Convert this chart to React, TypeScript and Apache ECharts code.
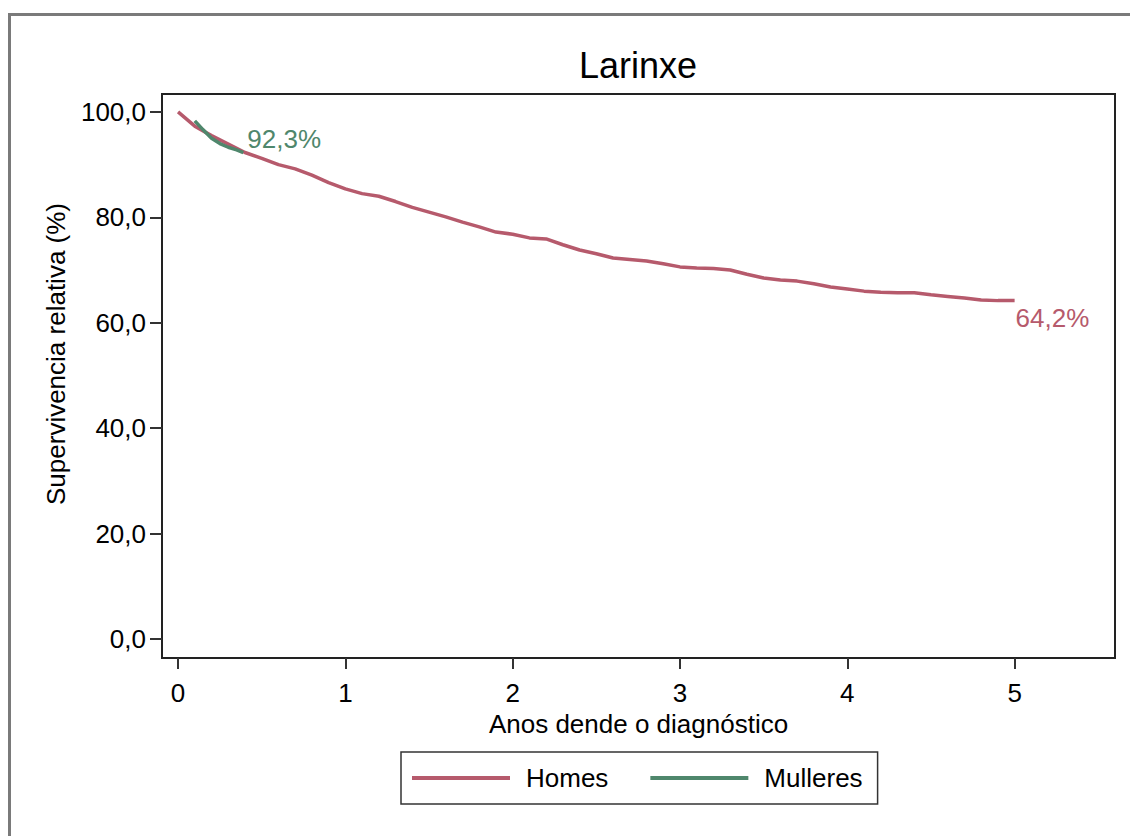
import React, { useEffect, useRef } from "react";
import * as echarts from "echarts";

const titleText = "Larinxe";
const yAxisTitle = "Supervivencia relativa (%)";
const xAxisTitle = "Anos dende o diagnóstico";
const seriesNames = ["Homes", "Mulleres"];

const yTicks = [0, 20, 40, 60, 80, 100];
const xTicks = [0, 1, 2, 3, 4, 5];

const homesYears = [
  0, 0.1, 0.2, 0.3, 0.4, 0.5, 0.6, 0.7, 0.8, 0.9, 1.0, 1.1, 1.2, 1.3, 1.4, 1.5, 1.6,
  1.7, 1.8, 1.9, 2.0, 2.1, 2.2, 2.3, 2.4, 2.5, 2.6, 2.7, 2.8, 2.9, 3.0, 3.1, 3.2, 3.3,
  3.4, 3.5, 3.6, 3.7, 3.8, 3.9, 4.0, 4.1, 4.2, 4.3, 4.4, 4.5, 4.6, 4.7, 4.8, 4.9, 5.0,
];
const homesSurv = [
  100, 97.3, 95.5, 93.9, 92.3, 91.2, 90.0, 89.2, 88.0, 86.6, 85.4, 84.5, 84.0, 83.0,
  81.9, 81.0, 80.1, 79.1, 78.2, 77.2, 76.8, 76.1, 75.9, 74.8, 73.8, 73.1, 72.3, 72.0,
  71.7, 71.2, 70.6, 70.4, 70.3, 70.0, 69.2, 68.5, 68.1, 67.9, 67.4, 66.8, 66.4, 66.0,
  65.8, 65.7, 65.7, 65.3, 65.0, 64.7, 64.3, 64.2, 64.2,
];

const mulleresYears = [0.1, 0.15, 0.2, 0.25, 0.3, 0.35, 0.39];
const mulleresSurv = [98.3, 96.6, 95.0, 94.0, 93.3, 92.8, 92.3];

const RED = "#b65a6c";
const GREEN = "#4f876c";
const FONT = "'Liberation Sans', Arial, sans-serif";

const fmtPct = (p: any) =>
  Number(p.value[1]).toFixed(1).replace(".", ",") + "%";

export default function App() {
  const ref = useRef<HTMLDivElement>(null);
  useEffect(() => {
    if (!ref.current) return;
    const chart = echarts.init(ref.current, null, { renderer: "svg" });
    const homesData = homesYears.map((x, i) => [x, homesSurv[i]]);
    const mullData = mulleresYears.map((x, i) => [x, mulleresSurv[i]]);
    chart.setOption({
      animation: false,
      backgroundColor: "#fff",
      textStyle: { fontFamily: FONT },
      title: {
        text: titleText,
        left: 638,
        top: 47,
        textAlign: "center",
        padding: 0,
        textStyle: { fontFamily: FONT, fontSize: 36, fontWeight: "normal", color: "#000" },
      },
      graphic: [
        {
          type: "rect",
          shape: { x: 9.5, y: 14.5, width: 1200, height: 900 },
          style: { fill: "none", stroke: "#7a7a7a", lineWidth: 3 },
          silent: true,
          z: 100,
        },
        {
          type: "text",
          x: 56,
          y: 354,
          rotation: Math.PI / 2,
          silent: true,
          style: {
            text: yAxisTitle,
            fontFamily: FONT,
            fontSize: 26,
            fill: "#000",
            align: "center",
            verticalAlign: "middle",
          },
        },
      ],
      grid: {
        left: 162,
        right: 15,
        top: 94,
        bottom: 178,
        show: true,
        borderColor: "#222",
        borderWidth: 2,
        backgroundColor: "#fff",
      },
      legend: {
        data: seriesNames,
        left: 401,
        top: 752,
        orient: "horizontal",
        icon: "rect",
        padding: [13, 15, 13, 11],
        itemWidth: 98,
        itemHeight: 4,
        itemGap: 42,
        borderColor: "#333",
        borderWidth: 1.5,
        textStyle: { fontFamily: FONT, fontSize: 26, color: "#000", padding: [0, 0, 0, 11] },
      },
      xAxis: {
        type: "value",
        min: -0.096,
        max: 5.6,
        name: xAxisTitle,
        nameLocation: "middle",
        nameGap: 40,
        nameTextStyle: { fontFamily: FONT, fontSize: 26, color: "#000" },
        axisLine: { show: false, onZero: false },
        splitLine: { show: false },
        axisTick: {
          show: true,
          customValues: xTicks,
          length: 11,
          lineStyle: { color: "#333", width: 2 },
        },
        axisLabel: {
          customValues: xTicks,
          margin: 22,
          fontFamily: FONT,
          fontSize: 26,
          color: "#000",
          formatter: (v: number) => String(v),
        },
      },
      yAxis: {
        type: "value",
        min: -3.6,
        max: 103.4,
        axisLine: { show: false, onZero: false },
        splitLine: { show: false },
        axisTick: {
          show: true,
          customValues: yTicks,
          length: 12,
          lineStyle: { color: "#333", width: 2 },
        },
        axisLabel: {
          customValues: yTicks,
          margin: 16,
          fontFamily: FONT,
          fontSize: 26,
          color: "#000",
          formatter: (v: number) => v.toFixed(1).replace(".", ","),
        },
      },
      series: [
        {
          name: seriesNames[0],
          type: "line",
          data: homesData,
          showSymbol: false,
          symbol: "none",
          color: RED,
          lineStyle: { color: RED, width: 3.5 },
          endLabel: {
            show: true,
            formatter: fmtPct,
            distance: 1,
            offset: [0, 17],
            color: RED,
            fontFamily: FONT,
            fontSize: 26,
          },
          z: 2,
        },
        {
          name: seriesNames[1],
          type: "line",
          data: mullData,
          showSymbol: false,
          symbol: "none",
          color: GREEN,
          lineStyle: { color: GREEN, width: 3.5 },
          endLabel: {
            show: true,
            formatter: fmtPct,
            distance: 4,
            offset: [0, -14],
            color: GREEN,
            fontFamily: FONT,
            fontSize: 26,
          },
          z: 3,
        },
      ],
    });
    return () => chart.dispose();
  }, []);
  return (
    <div
      ref={ref}
      style={{ position: "fixed", left: 0, top: 0, width: 1130, height: 836 }}
    />
  );
}
